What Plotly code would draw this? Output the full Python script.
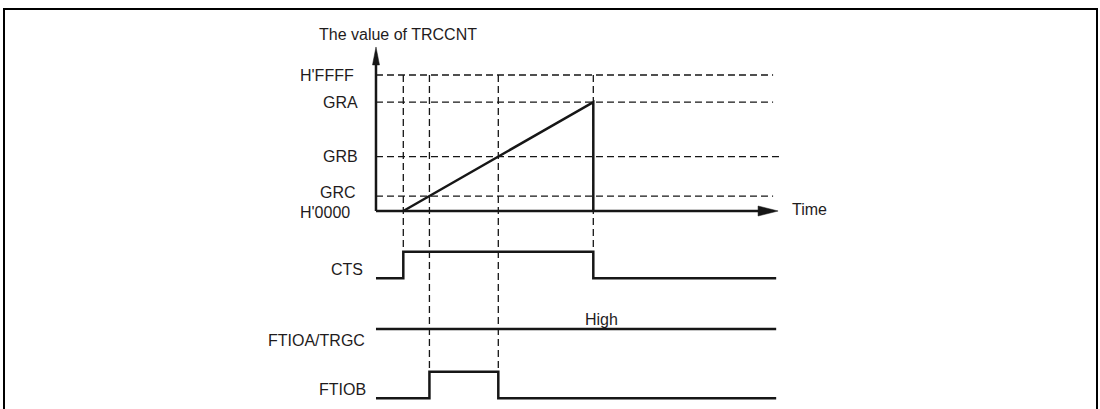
import plotly.graph_objects as go

# ---------------- data ----------------
level_names = ["H'FFFF", "GRA", "GRB", "GRC", "H'0000"]
level_values = [100, 80, 40, 11, 0]          # counter levels (H'FFFF = 100 %)
event_times = [0, 11, 40, 80]                # count start, GRC match, GRB match, GRA match
t_origin = -11.5                             # time-axis origin
t_end = 157                                  # end of waveforms
t_arrow = 157.8                              # tip of the time arrow
c_arrow = 120.6                              # tip of the counter arrow
counter_t = [0, 80, 80]
counter_v = [0, 80, 0]
signal_names = ["CTS", "FTIOA/TRGC", "FTIOB"]
cts_t = [t_origin, 0, 80, t_end]
cts_v = [0, 1, 0, 0]
ftioa_t = [t_origin, t_end]
ftioa_v = [1, 1]
ftiob_t = [t_origin, 11, 40, t_end]
ftiob_v = [0, 1, 0, 0]
y_title = "The value of TRCCNT"
x_title = "Time"
high_label = "High"
high_time = 83.5

# ---------------- layout geometry (pixels) ----------------
W, H = 1100, 409
X0_PX, X_K = 403.3, 2.375          # pixel of t=0, pixels per time unit
C0_PY, C_K = 211.0, 1.36           # counter axis
SIG_K = 26.6
CTS0_PY = 278.3
FTIOA0_PY = 329.0 + SIG_K
FTIOB0_PY = 398.3

INK = "#161616"
TXT = "#1f1c1d"
FONT = "Liberation Sans, Arial, sans-serif"
DASH = "7px,4px"


def yrange(py0, k):
    return [(py0 - H) / k, py0 / k]


def counter_at(py):
    return (C0_PY - py) / C_K


x_range = [(0 - X0_PX) / X_K, (W - X0_PX) / X_K]

fig = go.Figure()

# horizontal dashed reference lines
dash_ends = {"H'FFFF": 155.7, "GRA": 155.7, "GRB": 158.2, "GRC": 155.7}
for name, val in zip(level_names, level_values):
    if name in dash_ends:
        fig.add_trace(go.Scatter(x=[t_origin, dash_ends[name]], y=[val, val], mode="lines",
                                 line=dict(color=INK, width=1.3, dash=DASH), hoverinfo="skip"))

# vertical dashed event lines
bottoms = {0: counter_at(CTS0_PY - SIG_K), 11: counter_at(FTIOB0_PY - SIG_K),
           40: counter_at(FTIOB0_PY - SIG_K), 80: counter_at(CTS0_PY - SIG_K)}
for t in event_times:
    fig.add_trace(go.Scatter(x=[t, t], y=[level_values[0], bottoms[t]], mode="lines",
                             line=dict(color=INK, width=1.3, dash=DASH), hoverinfo="skip"))

# counter axes
fig.add_trace(go.Scatter(x=[t_origin, t_origin], y=[0, c_arrow - 14 / C_K], mode="lines",
                         line=dict(color=INK, width=2.5), hoverinfo="skip"))
fig.add_trace(go.Scatter(x=[t_origin, t_arrow - 16 / X_K], y=[0, 0], mode="lines",
                         line=dict(color=INK, width=2.5), hoverinfo="skip"))

# counter ramp
fig.add_trace(go.Scatter(x=counter_t, y=counter_v, mode="lines",
                         line=dict(color=INK, width=2.5), hoverinfo="skip"))

# signals
for tt, vv, ax in [(cts_t, cts_v, "y2"), (ftioa_t, ftioa_v, "y3"), (ftiob_t, ftiob_v, "y4")]:
    fig.add_trace(go.Scatter(x=tt, y=vv, yaxis=ax, mode="lines", line_shape="hv",
                             line=dict(color=INK, width=2.5), hoverinfo="skip"))

# arrowheads
fig.add_shape(type="path", xref="x", yref="y", xsizemode="pixel", ysizemode="pixel",
              xanchor=t_origin, yanchor=c_arrow, path="M0,0 L-3.5,-18 L3.5,-18 Z",
              fillcolor=INK, line=dict(color=INK, width=0.5))
fig.add_shape(type="path", xref="x", yref="y", xsizemode="pixel", ysizemode="pixel",
              xanchor=t_arrow, yanchor=0, path="M0,0 L-20,5 L-20,-5 Z",
              fillcolor=INK, line=dict(color=INK, width=0.5))

# frame
fig.add_shape(type="rect", xref="paper", yref="paper", x0=4 / W, x1=1097 / W,
              y0=-0.1, y1=1 - 9 / H, line=dict(color="black", width=2))

annots = []
# level labels
lbl_dx = {"H'FFFF": -20, "GRA": -16, "GRB": -16, "GRC": -18, "H'0000": -24}
lbl_dy = {"H'FFFF": 0, "GRA": 0, "GRB": 0, "GRC": 4, "H'0000": -1}
for name, val in zip(level_names, level_values):
    annots.append(dict(x=t_origin, y=val, xref="x", yref="y", text=name, showarrow=False,
                       xanchor="right", yanchor="middle", xshift=lbl_dx[name], yshift=lbl_dy[name]))
# signal labels
sig_pos = [("y2", 0.5, -4, -11), ("y3", 1, -11, -9), ("y4", 0.5, -4, -8)]
for name, (ax, v, dy, dx) in zip(signal_names, sig_pos):
    annots.append(dict(x=t_origin, y=v, xref="x", yref=ax, text=name, showarrow=False,
                       xanchor="right", yanchor="middle", xshift=dx, yshift=dy))
annots.append(dict(x=t_origin, y=c_arrow, xref="x", yref="y", text=y_title, showarrow=False,
                   xanchor="center", yanchor="middle", xshift=22, yshift=12))
annots.append(dict(x=t_arrow, y=0, xref="x", yref="y", text=x_title, showarrow=False,
                   xanchor="left", yanchor="middle", xshift=12, yshift=2))
annots.append(dict(x=high_time, y=1, xref="x", yref="y3", text=high_label, showarrow=False,
                   xanchor="center", yanchor="middle", yshift=10))

hidden = dict(visible=False, showgrid=False, zeroline=False, fixedrange=True)
fig.update_layout(
    width=W, height=H, margin=dict(l=0, r=0, t=0, b=0),
    paper_bgcolor="white", plot_bgcolor="white", showlegend=False,
    font=dict(family=FONT, size=16, color=TXT),
    xaxis=dict(range=x_range, domain=[0, 1], **hidden),
    yaxis=dict(range=yrange(C0_PY, C_K), domain=[0, 1], **hidden),
    yaxis2=dict(range=yrange(CTS0_PY, SIG_K), overlaying="y", **hidden),
    yaxis3=dict(range=yrange(FTIOA0_PY, SIG_K), overlaying="y", **hidden),
    yaxis4=dict(range=yrange(FTIOB0_PY, SIG_K), overlaying="y", **hidden),
    annotations=annots,
)

fig.write_html("out.html", config={"displayModeBar": False, "staticPlot": True},
               post_script="document.body.style.margin='0';document.body.style.overflow='hidden';")
